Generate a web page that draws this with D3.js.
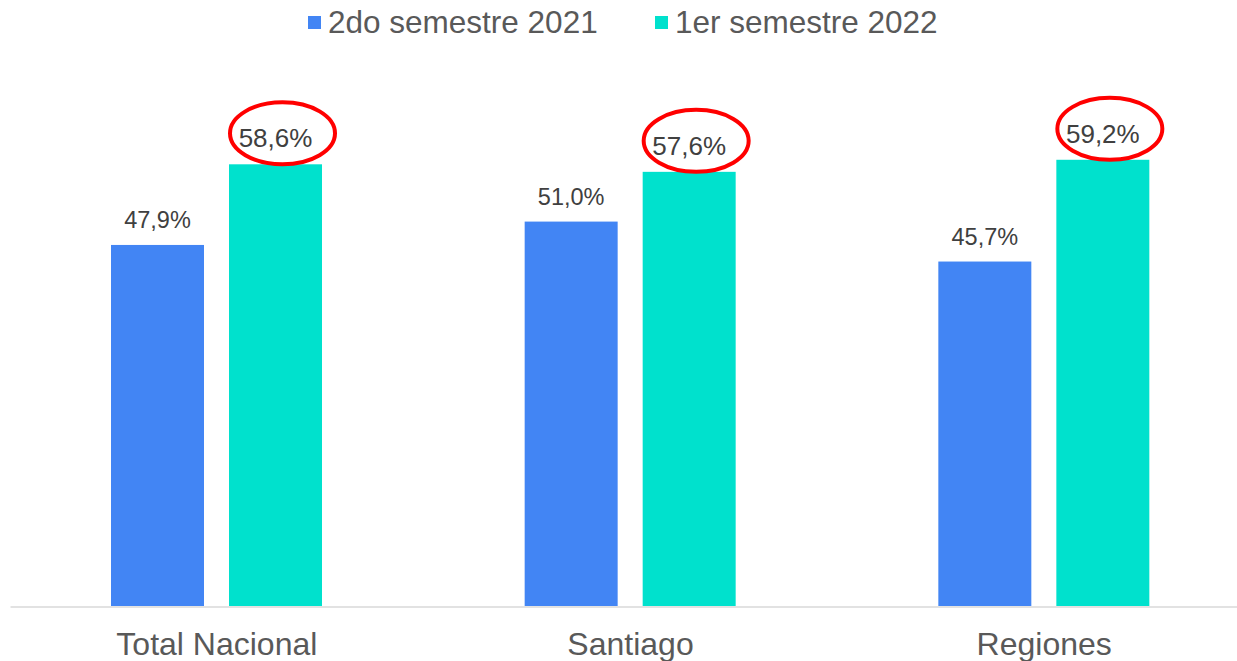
<!DOCTYPE html>
<html>
<head>
<meta charset="utf-8">
<script src="https://cdn.jsdelivr.net/npm/d3@7"></script>
<style>
  body { margin: 0; background: #fff; }
  svg { display: block; font-family: "Liberation Sans", Arial, sans-serif; }
</style>
</head>
<body>
<div id="chart"></div>
<script>
// data
var categories = ["Total Nacional", "Santiago", "Regiones"];
var series = ["2do semestre 2021", "1er semestre 2022"];
var values2021 = [47.9, 51.0, 45.7];
var values2022 = [58.6, 57.6, 59.2];
var colors = ["#4285f4", "#00e1cd"];

var W = 1237, H = 661;
var baseline = 606;

var svg = d3.select("#chart").append("svg")
    .attr("width", W)
    .attr("height", H);

// scales
var x0 = d3.scaleBand()
    .domain(categories)
    .range([10, 1251])
    .padding(0);
var x1 = d3.scaleBand()
    .domain(series)
    .range([101, 312])
    .paddingInner(0.212);
var y = d3.scaleLinear()
    .domain([0, 80])
    .range([baseline, 3]);

var rows = categories.map(function (c, i) {
    return [
        { cat: c, s: series[0], value: values2021[i], color: colors[0], hi: false },
        { cat: c, s: series[1], value: values2022[i], color: colors[1], hi: true }
    ];
});
var flat = [].concat.apply([], rows);

// bars
svg.selectAll(".bar")
    .data(flat)
    .enter().append("rect")
    .attr("class", "bar")
    .attr("x", function (d) { return x0(d.cat) + x1(d.s); })
    .attr("width", x1.bandwidth())
    .attr("y", function (d) { return y(d.value); })
    .attr("height", function (d) { return baseline - y(d.value); })
    .attr("fill", function (d) { return d.color; });

// axis
var axis = svg.append("g")
    .attr("transform", "translate(0," + (baseline + 0.5) + ")")
    .call(d3.axisBottom(x0).tickSize(0).tickSizeOuter(0).tickPadding(26));
axis.select(".domain").attr("stroke", "#d9d9d9").attr("stroke-width", 1.5);
axis.selectAll("text")
    .attr("fill", "#595959")
    .style("font-size", "32px")
    .style("font-family", "'Liberation Sans', Arial, sans-serif");

// value labels
var fmt = function (v) { return v.toFixed(1).replace(".", ",") + "%"; };
svg.selectAll(".amount")
    .data(flat)
    .enter().append("text")
    .attr("class", "amount")
    .attr("x", function (d) { return x0(d.cat) + x1(d.s) + x1.bandwidth() / 2; })
    .attr("y", function (d) { return y(d.value) - 17; })
    .attr("text-anchor", "middle")
    .attr("fill", "#404040")
    .style("font-size", function (d) { return d.hi ? "26px" : "23.5px"; })
    .text(function (d) { return fmt(d.value); });

// red ellipses round the 2022 labels
svg.selectAll(".ring")
    .data(flat.filter(function (d) { return d.hi; }))
    .enter().append("ellipse")
    .attr("class", "ring")
    .attr("cx", function (d) { return x0(d.cat) + x1(d.s) + x1.bandwidth() / 2 + 7; })
    .attr("cy", function (d) { return y(d.value) - 31; })
    .attr("rx", 52.5)
    .attr("ry", 31)
    .attr("fill", "none")
    .attr("stroke", "#ff0000")
    .attr("stroke-width", 4);

// legend
var legendX = [308, 655];
var legend = svg.selectAll(".legend")
    .data(series)
    .enter().append("g")
    .attr("class", "legend")
    .attr("transform", function (d, i) { return "translate(" + legendX[i] + ",0)"; });
legend.append("rect")
    .attr("x", 0)
    .attr("y", 16)
    .attr("width", 13)
    .attr("height", 13)
    .attr("fill", function (d, i) { return colors[i]; });
legend.append("text")
    .attr("x", 20)
    .attr("y", 33)
    .attr("fill", "#595959")
    .style("font-size", "31.5px")
    .text(function (d) { return d; });
</script>
</body>
</html>
